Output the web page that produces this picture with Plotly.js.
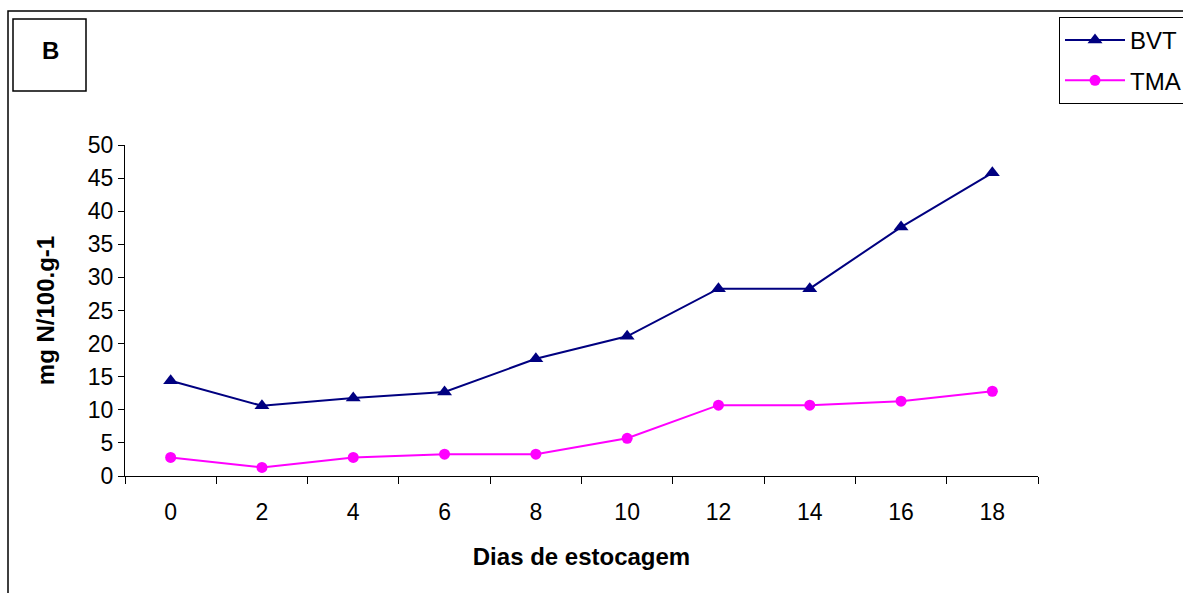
<!DOCTYPE html>
<html>
<head>
<meta charset="utf-8">
<script src="https://cdn.plot.ly/plotly-3.0.1.min.js"></script>
<style>html,body{margin:0;padding:0;background:#fff;}#chart{width:1183px;height:593px;}</style>
</head>
<body>
<div id="chart"></div>
<script>
const days = ["0","2","4","6","8","10","12","14","16","18"];
const bvt = [14.4, 10.6, 11.8, 12.7, 17.7, 21.1, 28.3, 28.3, 37.6, 45.8];
const tma = [2.8, 1.3, 2.8, 3.3, 3.3, 5.7, 10.7, 10.7, 11.3, 12.8];
const seriesNames = ["BVT", "TMA"];
const xTitle = "Dias de estocagem";
const yTitle = "mg N/100.g-1";
const panelLabel = "B";

const W = 1183, H = 593;
const L = 125, R = 1038, T = 145, B = 476;
const px = v => (v - L) / (R - L);
const py = v => (B - v) / (B - T);
const font = "Liberation Sans, Arial, sans-serif";

const traces = [
  {x: days, y: bvt, name: seriesNames[0], type: "scatter", mode: "lines+markers", legendgroup: "a",
   line: {color: "#000080", width: 2}, marker: {symbol: "triangle-up", size: 13, color: "#000080"}},
  {x: days, y: tma, name: seriesNames[1], type: "scatter", mode: "lines+markers", legendgroup: "b",
   line: {color: "#FF00FF", width: 2}, marker: {symbol: "circle", size: 11, color: "#FF00FF"}}
];

const layout = {
  width: W, height: H,
  margin: {l: L, r: W - R, t: T, b: H - B, autoexpand: false},
  paper_bgcolor: "#fff", plot_bgcolor: "#fff",
  font: {family: font, size: 23, color: "#000"},
  showlegend: true,
  xaxis: {type: "category", range: [-0.5, 9.5], tickson: "boundaries", ticks: "outside", ticklen: 7,
    tickcolor: "#000", showline: true, linecolor: "#000", linewidth: 1, showgrid: false, zeroline: false,
    tickfont: {size: 23}, ticklabelstandoff: 15, automargin: false,
    title: {text: xTitle, font: {size: 24, family: font, weight: "bold"}, standoff: 24}},
  yaxis: {range: [0, 50], dtick: 5, ticks: "outside", ticklen: 6, tickcolor: "#000", showline: true,
    linecolor: "#000", linewidth: 1, showgrid: false, zeroline: false, tickfont: {size: 23}, automargin: false,
    title: {text: yTitle, font: {size: 24, family: font, weight: "bold"}, standoff: 26}},
  legend: {x: px(1059), y: py(17), xanchor: "left", yanchor: "top", bordercolor: "#000", borderwidth: 1,
    bgcolor: "#fff", font: {size: 24}, itemwidth: 60, traceorder: "grouped", tracegroupgap: 6},
  shapes: [
    {type: "rect", xref: "paper", yref: "paper", x0: px(8), x1: px(1200), y0: py(610), y1: py(11),
     line: {color: "#000", width: 1.5}, fillcolor: "rgba(0,0,0,0)", layer: "below"},
    {type: "rect", xref: "paper", yref: "paper", x0: px(13), x1: px(86), y0: py(91), y1: py(19),
     line: {color: "#000", width: 1.5}, fillcolor: "rgba(0,0,0,0)"}
  ],
  annotations: [
    {text: "<b>" + panelLabel + "</b>", xref: "paper", yref: "paper", x: px(50), y: py(50),
     xanchor: "center", yanchor: "middle", showarrow: false, font: {size: 24, family: font}}
  ]
};

Plotly.newPlot("chart", traces, layout, {displayModeBar: false, staticPlot: true});
</script>
</body>
</html>
